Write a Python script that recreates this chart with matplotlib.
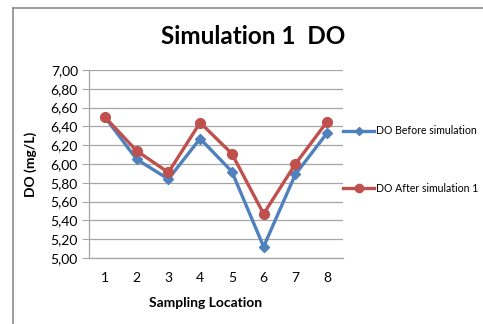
import matplotlib
matplotlib.use("Agg")
import matplotlib.pyplot as plt
from matplotlib.lines import Line2D

plt.rcParams['font.family'] = ['Lato', 'DejaVu Sans']

locations = [1, 2, 3, 4, 5, 6, 7, 8]
do_before = [6.50, 6.05, 5.84, 6.27, 5.92, 5.12, 5.89, 6.33]
do_after = [6.50, 6.14, 5.91, 6.44, 6.11, 5.47, 6.00, 6.45]
yticks = [5.0, 5.2, 5.4, 5.6, 5.8, 6.0, 6.2, 6.4, 6.6, 6.8, 7.0]
ytick_labels = [f"{v:.2f}".replace('.', ',') for v in yticks]

W, H = 483, 324
fig = plt.figure(figsize=(W / 100, H / 100), dpi=100)
fig.patch.set_facecolor('white')

# chart frame
fig.add_artist(Line2D([13 / W, 13 / W], [0, 1 - 8 / H], transform=fig.transFigure, color='#8c8c8c', lw=1.2))
fig.add_artist(Line2D([13 / W, 1], [1 - 8 / H, 1 - 8 / H], transform=fig.transFigure, color='#8c8c8c', lw=1.2))

ax = fig.add_axes([89 / W, 66 / H, (343 - 89) / W, (258 - 70) / H])
grid_c = '#a6a6a6'
ax.set_xlim(0.5, 8.5)
ax.set_ylim(5.0, 7.0)
ax.set_yticks(yticks)
ax.set_yticklabels(ytick_labels)
ax.set_xticks(locations)
ax.set_xticklabels([str(v) for v in locations])
ax.yaxis.grid(True, color=grid_c, lw=0.9)
ax.set_axisbelow(True)
for s in ['top', 'right']:
    ax.spines[s].set_visible(False)
ax.spines['left'].set_color(grid_c)
ax.spines['bottom'].set_color(grid_c)
ax.spines['left'].set_linewidth(0.9)
ax.spines['bottom'].set_linewidth(0.9)
ax.tick_params(axis='y', length=5, color=grid_c, labelsize=10, pad=3)
ax.tick_params(axis='x', length=0, labelsize=10, pad=10)

l1, = ax.plot(locations, do_before, color='#4F81BD', lw=2.4, marker='D', ms=5,
              label='DO Before simulation')
l2, = ax.plot(locations, do_after, color='#C0504D', lw=2.4, marker='o', ms=7,
              label='DO After simulation 1')

fig.text(253 / W, 1 - 36 / H, 'Simulation 1  DO', ha='center', va='center',
         fontsize=17.5, fontweight='bold')
fig.text(206 / W, 1 - 303 / H, 'Sampling Location', ha='center', va='center',
         fontsize=10, fontweight='bold')
fig.text(31 / W, 1 - 164 / H, 'DO (mg/L)', ha='center', va='center',
         fontsize=10, fontweight='bold', rotation=90)

leg = fig.legend(handles=[l1, l2], loc='upper left',
                 bbox_to_anchor=(338 / W, 1 - 120 / H), frameon=False,
                 fontsize=7.6, handlelength=2.9, handletextpad=0.2,
                 labelspacing=4.4, borderpad=0, markerscale=0.85)

fig.savefig('out.png', dpi=100)
